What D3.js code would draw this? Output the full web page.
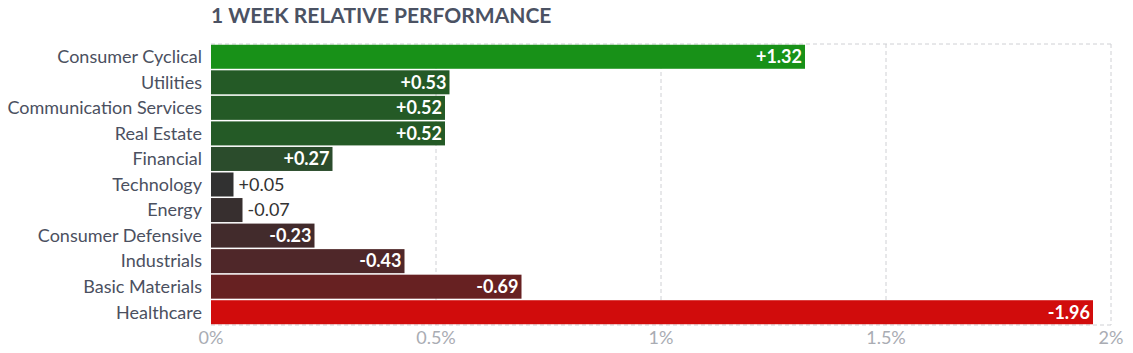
<!DOCTYPE html>
<html>
<head>
<meta charset="utf-8">
<script src="https://cdn.jsdelivr.net/npm/d3@7"></script>
<style>
  body { margin: 0; background: #fff; }
  svg { font-family: Lato, "Open Sans", sans-serif; }
</style>
</head>
<body>
<script>
// data
var sectors = ["Consumer Cyclical", "Utilities", "Communication Services", "Real Estate", "Financial",
  "Technology", "Energy", "Consumer Defensive", "Industrials", "Basic Materials", "Healthcare"];
var changes = [1.32, 0.53, 0.52, 0.52, 0.27, 0.05, -0.07, -0.23, -0.43, -0.69, -1.96];
var barColors = ["#189118", "#245a26", "#245a26", "#245a26", "#2b4c2c", "#313131",
  "#372f2f", "#422b2c", "#4f2729", "#672122", "#d10c0c"];
var ticks = [0, 0.5, 1, 1.5, 2];

var width = 1133, height = 353;
var margin = {top: 44, right: 22, bottom: 28, left: 211};
var w = width - margin.left - margin.right,
    h = height - margin.top - margin.bottom;

var svg = d3.select("body").append("svg")
    .attr("width", width)
    .attr("height", height);

svg.append("text")
    .attr("x", margin.left)
    .attr("y", 23)
    .attr("fill", "#4b5263")
    .style("font-size", "21px")
    .style("font-weight", "bold")
    .text("1 WEEK RELATIVE PERFORMANCE");

var g = svg.append("g")
    .attr("transform", "translate(" + margin.left + "," + margin.top + ")");

var x = d3.scaleLinear().domain([0, 2]).range([0, w]);
var y = d3.scaleBand().domain(sectors).range([0, h]).paddingInner(0.06).paddingOuter(0.03);

// grid
g.selectAll("line.grid")
    .data(ticks.slice(1))
  .enter().append("line")
    .attr("x1", d => x(d)).attr("x2", d => x(d))
    .attr("y1", 0).attr("y2", h)
    .attr("stroke", "#cfd0d4")
    .attr("stroke-dasharray", "4,3");

[0, h].forEach(function(yy) {
  g.append("line")
    .attr("x1", 0).attr("x2", w)
    .attr("y1", yy).attr("y2", yy)
    .attr("stroke", "#cfd0d4")
    .attr("stroke-dasharray", "4,3");
});

var data = sectors.map((s, i) => ({name: s, v: changes[i], c: barColors[i]}));

g.selectAll("rect.bar")
    .data(data)
  .enter().append("rect")
    .attr("x", 0)
    .attr("y", d => y(d.name))
    .attr("width", d => x(Math.abs(d.v)))
    .attr("height", y.bandwidth())
    .attr("fill", d => d.c);

var fmt = d => (d > 0 ? "+" : "") + d.toFixed(2);

g.selectAll("text.val")
    .data(data)
  .enter().append("text")
    .attr("y", d => y(d.name) + y.bandwidth() / 2)
    .attr("dy", "0.35em")
    .style("font-size", "18px")
    .each(function(d) {
      var inside = Math.abs(d.v) > 0.15;
      d3.select(this)
        .attr("x", inside ? x(Math.abs(d.v)) - 3 : x(Math.abs(d.v)) + 5)
        .attr("text-anchor", inside ? "end" : "start")
        .attr("fill", inside ? "#fff" : "#333")
        .style("font-weight", inside ? "bold" : "normal");
    })
    .text(d => fmt(d.v));

// category labels
g.selectAll("text.cat")
    .data(sectors)
  .enter().append("text")
    .attr("x", -9)
    .attr("y", d => y(d) + y.bandwidth() / 2)
    .attr("dy", "0.35em")
    .attr("text-anchor", "end")
    .attr("fill", "#4b5060")
    .style("font-size", "18px")
    .text(d => d);

// x tick labels
g.selectAll("text.tick")
    .data(ticks)
  .enter().append("text")
    .attr("x", d => x(d))
    .attr("y", h + 19)
    .attr("text-anchor", "middle")
    .attr("fill", "#a9acb3")
    .style("font-size", "18px")
    .text(d => d + "%");
</script>
</body>
</html>
